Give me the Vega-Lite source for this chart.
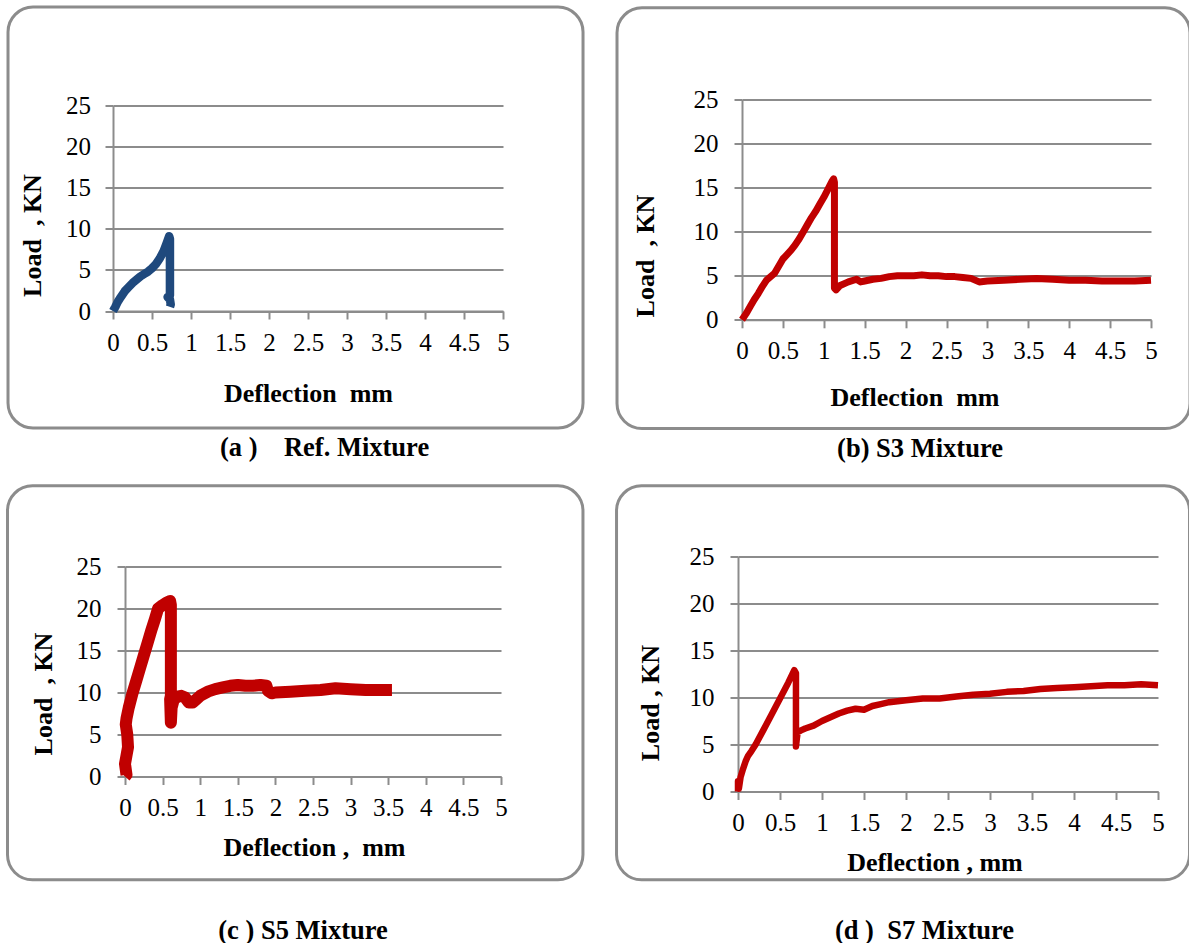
{
  "$schema": "https://vega.github.io/schema/vega-lite/v6.json",
  "background": "white",
  "padding": {"left": 5, "top": 4.5, "right": 0, "bottom": 0},
  "spacing": 20,
  "config": {
    "view": {"stroke": null},
    "axis": {
      "domainColor": "#8c8c8c", "domainWidth": 2,
      "tickColor": "#8c8c8c", "tickWidth": 2, "tickSize": 8,
      "gridColor": "#8c8c8c", "gridWidth": 2,
      "labelFont": "Liberation Serif", "labelFontSize": 25, "labelColor": "#000000",
      "labelOverlap": false, "labelFlush": false,
      "titleFont": "Liberation Serif", "titleFontSize": 26, "titleFontWeight": "bold", "titleColor": "#000000"
    },
    "axisX": {"grid": false, "labelPadding": 11, "labelAngle": 0, "tickCount": 20},
    "axisY": {"grid": true, "labelPadding": 16, "tickCount": 20}
  },
  "datasets": {
    "a": [
      {"n":1,"d":0,"l":0},{"n":2,"d":0.03,"l":0.5},{"n":3,"d":0.06,"l":1.1},{"n":4,"d":0.1,"l":1.7},
      {"n":5,"d":0.15,"l":2.4},{"n":6,"d":0.2,"l":2.9},{"n":7,"d":0.25,"l":3.4},{"n":8,"d":0.3,"l":3.8},
      {"n":9,"d":0.35,"l":4.2},{"n":10,"d":0.4,"l":4.5},{"n":11,"d":0.45,"l":4.8},{"n":12,"d":0.5,"l":5.2},
      {"n":13,"d":0.55,"l":5.7},{"n":14,"d":0.6,"l":6.4},{"n":15,"d":0.65,"l":7.3},{"n":16,"d":0.69,"l":8.3},
      {"n":17,"d":0.72,"l":9.1},{"n":18,"d":0.73,"l":8.8},{"n":19,"d":0.73,"l":7.3},{"n":20,"d":0.73,"l":4.5},
      {"n":21,"d":0.73,"l":1.9},{"n":22,"d":0.7,"l":1.7},{"n":23,"d":0.73,"l":1.4},{"n":24,"d":0.74,"l":0.8},
      {"n":25,"d":0.73,"l":0.5}
    ],
    "b": [
      {"n":1,"d":0,"l":0},{"n":2,"d":0.05,"l":0.7},{"n":3,"d":0.1,"l":1.5},{"n":4,"d":0.15,"l":2.3},
      {"n":5,"d":0.2,"l":3.0},{"n":6,"d":0.25,"l":3.8},{"n":7,"d":0.3,"l":4.5},{"n":8,"d":0.35,"l":4.9},
      {"n":9,"d":0.4,"l":5.3},{"n":10,"d":0.45,"l":6.1},{"n":11,"d":0.5,"l":6.9},{"n":12,"d":0.55,"l":7.4},
      {"n":13,"d":0.6,"l":7.9},{"n":14,"d":0.65,"l":8.5},{"n":15,"d":0.7,"l":9.2},{"n":16,"d":0.75,"l":10.0},
      {"n":17,"d":0.8,"l":10.8},{"n":18,"d":0.85,"l":11.6},{"n":19,"d":0.9,"l":12.3},{"n":20,"d":0.95,"l":13.1},
      {"n":21,"d":1.0,"l":13.9},{"n":22,"d":1.05,"l":14.8},{"n":23,"d":1.1,"l":15.7},{"n":24,"d":1.12,"l":16.0},
      {"n":25,"d":1.13,"l":15.6},{"n":26,"d":1.13,"l":3.6},{"n":27,"d":1.15,"l":3.4},{"n":28,"d":1.2,"l":3.9},
      {"n":29,"d":1.3,"l":4.3},{"n":30,"d":1.4,"l":4.6},{"n":31,"d":1.45,"l":4.3},{"n":32,"d":1.5,"l":4.4},
      {"n":33,"d":1.6,"l":4.6},{"n":34,"d":1.7,"l":4.7},{"n":35,"d":1.8,"l":4.9},{"n":36,"d":1.9,"l":5.0},
      {"n":37,"d":2.0,"l":5.0},{"n":38,"d":2.1,"l":5.0},{"n":39,"d":2.2,"l":5.1},{"n":40,"d":2.3,"l":5.0},
      {"n":41,"d":2.4,"l":5.0},{"n":42,"d":2.5,"l":4.9},{"n":43,"d":2.6,"l":4.9},{"n":44,"d":2.7,"l":4.8},
      {"n":45,"d":2.8,"l":4.7},{"n":46,"d":2.85,"l":4.5},{"n":47,"d":2.9,"l":4.3},{"n":48,"d":3.0,"l":4.4},
      {"n":49,"d":3.2,"l":4.5},{"n":50,"d":3.4,"l":4.6},{"n":51,"d":3.6,"l":4.7},{"n":52,"d":3.8,"l":4.6},
      {"n":53,"d":4.0,"l":4.5},{"n":54,"d":4.2,"l":4.5},{"n":55,"d":4.4,"l":4.4},{"n":56,"d":4.6,"l":4.4},
      {"n":57,"d":4.8,"l":4.4},{"n":58,"d":5.0,"l":4.5}
    ],
    "c": [
      {"n":1,"d":0,"l":0},{"n":2,"d":0.02,"l":0.2},{"n":3,"d":0,"l":1.5},{"n":4,"d":0.02,"l":2.5},
      {"n":5,"d":0.04,"l":3.5},{"n":6,"d":0.03,"l":5.0},{"n":7,"d":0.01,"l":6.2},{"n":8,"d":0.02,"l":6.9},
      {"n":9,"d":0.05,"l":8.2},{"n":10,"d":0.1,"l":9.9},{"n":11,"d":0.15,"l":11.4},{"n":12,"d":0.2,"l":12.9},
      {"n":13,"d":0.25,"l":14.4},{"n":14,"d":0.3,"l":15.9},{"n":15,"d":0.35,"l":17.4},{"n":16,"d":0.4,"l":18.8},
      {"n":17,"d":0.44,"l":20.0},{"n":18,"d":0.5,"l":20.4},{"n":19,"d":0.55,"l":20.7},{"n":20,"d":0.6,"l":20.9},
      {"n":21,"d":0.61,"l":20.4},{"n":22,"d":0.61,"l":9.6},{"n":23,"d":0.6,"l":9.2},{"n":24,"d":0.61,"l":6.4},
      {"n":25,"d":0.62,"l":8.2},{"n":26,"d":0.65,"l":9.2},{"n":27,"d":0.7,"l":9.5},{"n":28,"d":0.75,"l":9.6},
      {"n":29,"d":0.8,"l":9.4},{"n":30,"d":0.85,"l":8.8},{"n":31,"d":0.9,"l":8.8},{"n":32,"d":0.95,"l":9.2},
      {"n":33,"d":1.0,"l":9.6},{"n":34,"d":1.1,"l":10.1},{"n":35,"d":1.2,"l":10.4},{"n":36,"d":1.3,"l":10.6},
      {"n":37,"d":1.4,"l":10.8},{"n":38,"d":1.5,"l":10.9},{"n":39,"d":1.6,"l":10.8},{"n":40,"d":1.7,"l":10.8},
      {"n":41,"d":1.8,"l":10.9},{"n":42,"d":1.88,"l":10.8},{"n":43,"d":1.9,"l":10.2},{"n":44,"d":1.95,"l":9.9},
      {"n":45,"d":2.0,"l":10.0},{"n":46,"d":2.2,"l":10.1},{"n":47,"d":2.4,"l":10.2},{"n":48,"d":2.6,"l":10.3},
      {"n":49,"d":2.8,"l":10.5},{"n":50,"d":3.0,"l":10.4},{"n":51,"d":3.2,"l":10.3},{"n":52,"d":3.4,"l":10.3},
      {"n":53,"d":3.55,"l":10.3}
    ],
    "d": [
      {"n":1,"d":0,"l":0},{"n":2,"d":0,"l":1.1},{"n":3,"d":0.01,"l":0.3},{"n":4,"d":0.03,"l":1.5},
      {"n":5,"d":0.06,"l":2.4},{"n":6,"d":0.09,"l":3.2},{"n":7,"d":0.12,"l":3.8},{"n":8,"d":0.16,"l":4.3},
      {"n":9,"d":0.21,"l":5.0},{"n":10,"d":0.3,"l":6.5},{"n":11,"d":0.4,"l":8.2},{"n":12,"d":0.5,"l":9.9},
      {"n":13,"d":0.6,"l":11.6},{"n":14,"d":0.67,"l":12.9},{"n":15,"d":0.69,"l":12.6},{"n":16,"d":0.69,"l":9.5},
      {"n":17,"d":0.69,"l":4.8},{"n":18,"d":0.7,"l":5.6},{"n":19,"d":0.71,"l":6.3},{"n":20,"d":0.75,"l":6.5},
      {"n":21,"d":0.8,"l":6.7},{"n":22,"d":0.9,"l":7.0},{"n":23,"d":1.0,"l":7.5},{"n":24,"d":1.1,"l":7.9},
      {"n":25,"d":1.2,"l":8.3},{"n":26,"d":1.3,"l":8.6},{"n":27,"d":1.4,"l":8.8},{"n":28,"d":1.5,"l":8.7},
      {"n":29,"d":1.6,"l":9.1},{"n":30,"d":1.7,"l":9.3},{"n":31,"d":1.8,"l":9.5},{"n":32,"d":1.9,"l":9.6},
      {"n":33,"d":2.0,"l":9.7},{"n":34,"d":2.2,"l":9.9},{"n":35,"d":2.4,"l":9.9},{"n":36,"d":2.6,"l":10.1},
      {"n":37,"d":2.8,"l":10.3},{"n":38,"d":3.0,"l":10.4},{"n":39,"d":3.2,"l":10.6},{"n":40,"d":3.4,"l":10.7},
      {"n":41,"d":3.6,"l":10.9},{"n":42,"d":3.8,"l":11.0},{"n":43,"d":4.0,"l":11.1},{"n":44,"d":4.2,"l":11.2},
      {"n":45,"d":4.4,"l":11.3},{"n":46,"d":4.6,"l":11.3},{"n":47,"d":4.8,"l":11.4},{"n":48,"d":5.0,"l":11.3}
    ]
  },
  "vconcat": [
    {
      "spacing": 0,
      "hconcat": [
        {"width": 1, "height": 1, "data": {"values": [{}]}, "mark": {"type": "rect", "opacity": 0}},
        {
          "columns": 2,
          "align": "none",
          "spacing": {"row": 0, "column": 30},
          "concat": [
            {"width": 1, "height": 1, "data": {"values": [{}]}, "mark": {"type": "rect", "opacity": 0}},
            {"width": 1, "height": 1, "data": {"values": [{}]}, "mark": {"type": "rect", "opacity": 0}},
            {
              "width": 390, "height": 205.5,
              "layer": [
                {
                  "data": {"name": "a"},
                  "mark": {"type": "line", "color": "#1F497D", "strokeWidth": 8.5, "strokeJoin": "round"},
                  "encoding": {
                    "x": {"field": "d", "type": "quantitative", "scale": {"domain": [0, 5], "nice": false},
                          "axis": {"title": "Deflection\u00a0\u00a0mm", "values": [0,0.5,1,1.5,2,2.5,3,3.5,4,4.5,5], "tickCount": 20, "format": "~g", "labelOverlap": false, "titleX": 195, "titleY": 82, "titleBaseline": "middle", "titleAlign": "center"}},
                    "y": {"field": "l", "type": "quantitative", "scale": {"domain": [0, 25], "nice": false},
                          "axis": {"title": "Load\u00a0\u00a0, KN", "values": [0,5,10,15,20,25], "tickCount": 20, "labelOverlap": false, "labelPadding": 14.5, "titleX": -81, "titleY": 129.5, "titleBaseline": "middle", "titleAlign": "center"}},
                    "order": {"field": "n"}
                  }
                },
                {
                  "data": {"values": [{}]},
                  "mark": {"type": "rect", "filled": false, "stroke": "#8c8c8c", "strokeWidth": 3, "cornerRadius": 25},
                  "encoding": {
                    "x": {"datum": -1.346, "type": "quantitative"},
                    "x2": {"datum": 6.026},
                    "y": {"datum": 36.98, "type": "quantitative"},
                    "y2": {"datum": -14.23}
                  }
                },
                {
                  "data": {"values": [{}]},
                  "mark": {"type": "text", "text": "(a )\u00a0\u00a0\u00a0\u00a0Ref. Mixture", "font": "Liberation Serif", "fontSize": 26.5, "fontWeight": "bold", "color": "#000000", "align": "center", "baseline": "middle"},
                  "encoding": {
                    "x": {"datum": 2.712, "type": "quantitative"},
                    "y": {"datum": -16.67, "type": "quantitative"}
                  }
                }
              ]
            },
            {
              "width": 409, "height": 220.3,
              "layer": [
                {
                  "data": {"name": "b"},
                  "mark": {"type": "line", "color": "#C00000", "strokeWidth": 7, "strokeJoin": "round"},
                  "encoding": {
                    "x": {"field": "d", "type": "quantitative", "scale": {"domain": [0, 5], "nice": false},
                          "axis": {"title": "Deflection\u00a0\u00a0mm", "values": [0,0.5,1,1.5,2,2.5,3,3.5,4,4.5,5], "tickCount": 20, "format": "~g", "labelOverlap": false, "titleX": 172.5, "titleY": 78, "titleBaseline": "middle", "titleAlign": "center"}},
                    "y": {"field": "l", "type": "quantitative", "scale": {"domain": [0, 25], "nice": false},
                          "axis": {"title": "Load\u00a0\u00a0, KN", "values": [0,5,10,15,20,25], "tickCount": 20, "labelOverlap": false, "titleX": -97, "titleY": 156, "titleBaseline": "middle", "titleAlign": "center"}},
                    "order": {"field": "n"}
                  }
                },
                {
                  "data": {"values": [{}]},
                  "mark": {"type": "rect", "filled": false, "stroke": "#8c8c8c", "strokeWidth": 3, "cornerRadius": 25},
                  "encoding": {
                    "x": {"datum": -1.528, "type": "quantitative"},
                    "x2": {"datum": 5.477},
                    "y": {"datum": 35.41, "type": "quantitative"},
                    "y2": {"datum": -12.34}
                  }
                },
                {
                  "data": {"values": [{}]},
                  "mark": {"type": "text", "text": "(b) S3 Mixture", "font": "Liberation Serif", "fontSize": 26.5, "fontWeight": "bold", "color": "#000000", "align": "center", "baseline": "middle"},
                  "encoding": {
                    "x": {"datum": 2.176, "type": "quantitative"},
                    "y": {"datum": -14.61, "type": "quantitative"}
                  }
                }
              ]
            }
          ]
        }
      ]
    },
    {
      "spacing": 0,
      "hconcat": [
        {"width": 1, "height": 1, "data": {"values": [{}]}, "mark": {"type": "rect", "opacity": 0}},
        {
          "columns": 2,
          "align": "none",
          "spacing": {"row": 0, "column": 30},
          "concat": [
            {"width": 1, "height": 1, "data": {"values": [{}]}, "mark": {"type": "rect", "opacity": 0}},
            {"width": 1, "height": 1, "data": {"values": [{}]}, "mark": {"type": "rect", "opacity": 0}},
            {
              "width": 376, "height": 210,
              "layer": [
                {
                  "data": {"name": "c"},
                  "mark": {"type": "line", "color": "#C00000", "strokeWidth": 12, "strokeJoin": "round"},
                  "encoding": {
                    "x": {"field": "d", "type": "quantitative", "scale": {"domain": [0, 5], "nice": false},
                          "axis": {"title": "Deflection ,\u00a0\u00a0mm", "values": [0,0.5,1,1.5,2,2.5,3,3.5,4,4.5,5], "tickCount": 20, "format": "~g", "labelOverlap": false, "titleX": 189, "titleY": 71, "titleBaseline": "middle", "titleAlign": "center"}},
                    "y": {"field": "l", "type": "quantitative", "scale": {"domain": [0, 25], "nice": false},
                          "axis": {"title": "Load\u00a0\u00a0, KN", "values": [0,5,10,15,20,25], "tickCount": 20, "labelOverlap": false, "titleX": -81.6, "titleY": 127, "titleBaseline": "middle", "titleAlign": "center"}},
                    "order": {"field": "n"}
                  }
                },
                {
                  "data": {"values": [{}]},
                  "mark": {"type": "rect", "filled": false, "stroke": "#8c8c8c", "strokeWidth": 3, "cornerRadius": 25},
                  "encoding": {
                    "x": {"datum": -1.5625, "type": "quantitative"},
                    "x2": {"datum": 6.09},
                    "y": {"datum": 34.61, "type": "quantitative"},
                    "y2": {"datum": -12.30}
                  }
                },
                {
                  "data": {"values": [{}]},
                  "mark": {"type": "text", "text": "(c ) S5 Mixture", "font": "Liberation Serif", "fontSize": 26.5, "fontWeight": "bold", "color": "#000000", "align": "center", "baseline": "middle"},
                  "encoding": {
                    "x": {"datum": 2.367, "type": "quantitative"},
                    "y": {"datum": -18.37, "type": "quantitative"}
                  }
                }
              ]
            },
            {
              "width": 420, "height": 235,
              "layer": [
                {
                  "data": {"name": "d"},
                  "mark": {"type": "line", "color": "#C00000", "strokeWidth": 6.5, "strokeJoin": "round"},
                  "encoding": {
                    "x": {"field": "d", "type": "quantitative", "scale": {"domain": [0, 5], "nice": false},
                          "axis": {"title": "Deflection , mm", "values": [0,0.5,1,1.5,2,2.5,3,3.5,4,4.5,5], "tickCount": 20, "format": "~g", "labelOverlap": false, "titleX": 196.5, "titleY": 71, "titleBaseline": "middle", "titleAlign": "center"}},
                    "y": {"field": "l", "type": "quantitative", "scale": {"domain": [0, 25], "nice": false},
                          "axis": {"title": "Load , KN", "values": [0,5,10,15,20,25], "tickCount": 20, "labelOverlap": false, "titleX": -87.5, "titleY": 146, "titleBaseline": "middle", "titleAlign": "center"}},
                    "order": {"field": "n"}
                  }
                },
                {
                  "data": {"values": [{}]},
                  "mark": {"type": "rect", "filled": false, "stroke": "#8c8c8c", "strokeWidth": 3, "cornerRadius": 25},
                  "encoding": {
                    "x": {"datum": -1.446, "type": "quantitative"},
                    "x2": {"datum": 5.375},
                    "y": {"datum": 32.52, "type": "quantitative"},
                    "y2": {"datum": -9.39}
                  }
                },
                {
                  "data": {"values": [{}]},
                  "mark": {"type": "text", "text": "(d )\u00a0\u00a0S7 Mixture", "font": "Liberation Serif", "fontSize": 26.5, "fontWeight": "bold", "color": "#000000", "align": "center", "baseline": "middle"},
                  "encoding": {
                    "x": {"datum": 2.22, "type": "quantitative"},
                    "y": {"datum": -14.82, "type": "quantitative"}
                  }
                }
              ]
            }
          ]
        }
      ]
    }
  ]
}
